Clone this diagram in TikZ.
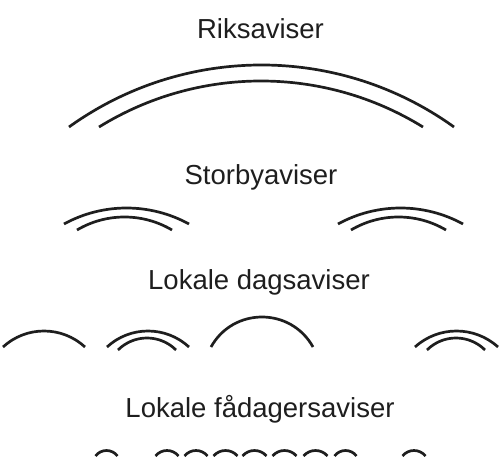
\documentclass[tikz,border=0pt]{standalone}
\usepackage{fontspec}
\setmainfont{Liberation Sans}
\definecolor{ink}{HTML}{1E1E1E}
\newcommand\hump[4]{% x0, x1, ybase, height (image px)
  \pgfmathsetmacro\hc{(#2-#1)/2}%
  \pgfmathsetmacro\th{2*atan(#4/\hc)}%
  \pgfmathsetmacro\kk{4/3*#4/sin(\th)}%
  \pgfmathsetmacro\ax{#1+\kk*cos(\th)}%
  \pgfmathsetmacro\bx{#2-\kk*cos(\th)}%
  \pgfmathsetmacro\ay{#3-\kk*sin(\th)}%
  \draw[humpline] (#1,#3) .. controls (\ax,\ay) and (\bx,\ay) .. (#2,#3);%
}
\begin{document}
\begin{tikzpicture}[x=1pt,y=-1pt,
  humpline/.style={draw=ink,line width=2.7pt},
  label/.style={anchor=base,text=ink,inner sep=0pt,font=\fontsize{27.5}{32}\selectfont}]
\useasboundingbox (0,0) rectangle (500,473);
% titles
\node[label] (rik) at (260.5,39) {Riksaviser};
\node[label] (stor) at (261,185) {Storbyaviser};
\node[label] (dag) at (259,289) {Lokale dagsaviser};
\node[label] (faa) at (260,417) {Lokale fådagersaviser};
% Riksaviser
\hump{69}{454}{127}{62}
\hump{99}{423}{127}{46}
% Storbyaviser
\hump{64}{189}{224}{16}
\hump{77}{172}{230}{13}
\hump{338}{463}{224}{16}
\hump{351}{446}{230}{13}
% Lokale dagsaviser
\hump{3}{85}{347}{16}
\hump{107}{189}{347}{16}
\hump{118}{176}{350}{12}
\hump{211}{313}{347}{30}
\hump{415}{498}{347}{16}
\hump{427}{485}{350}{12}
% Lokale faadagersaviser
\foreach \xa/\xb in {95.5/117.5,155.5/178.5,184.5/207.5,213.5/237.5,242.5/266.5,272.5/296.5,303.5/327.5,334.5/356.5,402.5/425.5}
  {\hump{\xa}{\xb}{456}{5.5}}
\end{tikzpicture}
\end{document}
